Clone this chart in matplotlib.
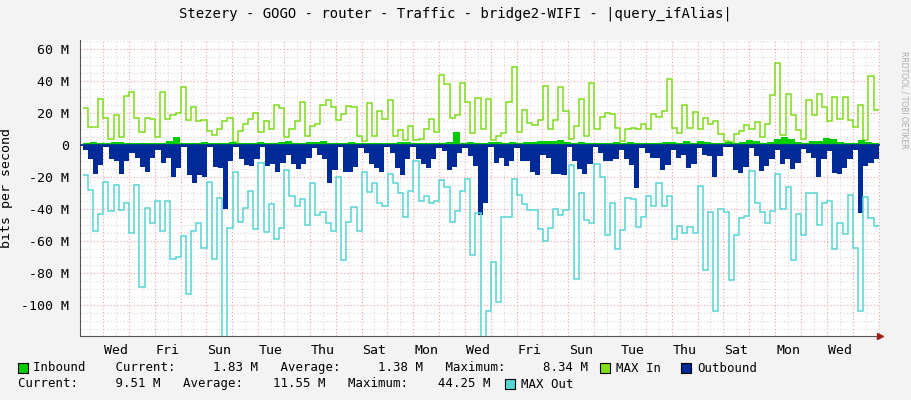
import matplotlib
matplotlib.use("Agg")
import matplotlib.pyplot as plt
import numpy as np

max_in = [23,11,11,28.5,17,4,18.5,5,30.6,33,17,8,17,16,5,33,16,18.5,20,36,15.6,23.5,15,15.6,8.7,6,9.8,15,16.7,2,9,13,16,20,8,14.8,9.8,24.8,23.3,5,
          9.8,15,26.7,5.6,12,13,24.8,28,23.5,15.6,19.4,24.4,23.5,5.6,2.7,26,5.8,21,16,28,5.8,9.4,3,12,3,4,9.8,16,8,43.75,38,16.7,18.75,38.5,26.7,7.7,29.6,9.8,28.5,
          3,5.6,7.3,27,49,8,22,14,12.5,15.6,37,9.8,15.6,36,21.5,4,11.9,29,5.6,38.5,9.8,17.7,20,19.4,10.8,2.7,9.8,10.4,9.8,13,9.8,19.4,17.3,21,41,10.4,7.7,25,
          10.4,20.8,9.8,16.7,13,15,6.7,2.5,1.7,6.7,8.7,12.5,9.8,14.4,5,13,31,51,6.25,31.7,18.5,9.4,3.5,28,18.75,32,24,15,30,16,30,15.6,11,24.8,3,43,22]
outbound = [3,9,18,12.5,1,9,10,18,10,5,8,14,17,8,3,11.5,8,20,14.6,1,19,23.5,19,20,1,14,14.6,40,10,1,9,12.5,13,9,1,13,12,17,11.5,6,
            12,15,12,8,2,6,9,24,15.6,1,17,17,14,2,5,12,14.6,17,1,5,14.6,19,9,1,9,12,14.6,9,2,4,15.6,13.5,5,2,7,13,44,36,
            1,11.5,8,13,10,2,10,10,17,19,6,8,18,18,19,1,10,15,18,12,1,5,10,10,9,3,9,12.5,27,2,5,8,8,15.6,12.5,3,8,6,
            14.6,12,2,6,7,20,7,1,1.5,15.6,17.7,13.5,2,7,16,13,9,3,12,9,15,11,2.7,5,8,20,9,4,17.7,18,14.6,9,3,42.7,13,11.5,9]
max_out = [19,28,54,43,23,41,25,40.6,36,55,25,88.5,39.6,49,35,54,35,71,70,57,93,53.5,49,64.6,23,71,33,120,52,16.7,48,39.6,29,52.7,11.5,54.6,37,58.8,51.7,15.6,
           32,38,34,50,23.5,43.75,41.7,49,54,19.8,72,48,39,54,16.7,29.6,24,36,38,18,24,30,45,29,10,35,32,36.5,35,22,26,48,41,28.5,21,69,42.7,120,103.5,
           73,98,45,44.8,21.5,31,37,40.6,40.6,52.7,60,52,40,44,40.6,12.5,84,30,47,48.5,12,19.8,56,36.5,65,53,33,34,51,44.8,32,38,23.5,38,32,59,50.8,55,
           51.5,55,25.6,78,42,104,40,41.7,84.4,56,45.8,44.4,16,36,41.7,49,41,18,40,26,72,43,56,30,30,50,36.5,35,65,48.5,55.6,31,64.6,103.75,32.7,45.8,50.6]
inbound = [1.5,1.8,1.2,1.5,1.6,2,1.2,1.5,1.5,1.2,1.5,1.3,2.5,4.8,1.2,1.5,1.4,2,1.5,1.3,
           1.5,1.6,1.4,1.5,1.3,1.8,1.5,1.3,1.6,2.5,1.5,1.2,1.6,1.8,2.2,1.5,1.5,1.3,1.7,1.5,
           1.4,1.2,1.5,1.5,1.3,1.6,2,1.2,1.5,1.4,1.5,1.2,1.8,8.3,1.5,1.6,1.3,1.5,2,1.8,
           1.2,2,1.5,1.8,1.6,2.2,2.4,2.6,2.8,1.6,1.5,1.8,1.2,1.4,1.2,1.5,2,1.5,1.8,1.2,
           1.5,1.3,1.5,1.8,2,1.5,2.5,1.5,2.2,1.8,1.4,1.2,1.6,1.3,2,2.8,2.5,1.4,2,3.5,
           4.8,4,2,1.5,2.2,2.5,4.2,3.5,2,1.3,1.5,2.8,1.6,1.5]
outbound_neg = [-v for v in outbound]
max_out_neg = [-v for v in max_out]
day_labels = ["Wed","Fri","Sun","Tue","Thu","Sat","Mon","Wed","Fri","Sun","Tue","Thu","Sat","Mon","Wed"]
y_ticks = [60,40,20,0,-20,-40,-60,-80,-100]

W, H = 911, 400
PX = 25.85
XMAX = 800 / PX
fig = plt.figure(figsize=(W/100, H/100), dpi=100, facecolor="#F3F3F3")
ax = fig.add_axes([80/W, 1-336/H, 800/W, 296/H])
ax.set_facecolor("white")
ylo, yhi = -119.4, 65.6
ax.set_xlim(0, XMAX); ax.set_ylim(ylo, yhi)

for k in range(0, 62):
    d = 0.89 - 0.5 + k*0.5
    if 0 < d < XMAX:
        is_major = k % 2 == 1
        ax.axvline(d, color="#F0A0A0" if is_major else "#D8D8D8", lw=0.8, ls=(0,(1,2)), zorder=0)
for v in range(-115, 66, 5):
    ax.axhline(v, color="#F0A0A0" if v % 20 == 0 else "#D8D8D8", lw=0.8, ls=(0,(1,2)), zorder=0)

def edges(n):
    return np.linspace(0.1, XMAX - 0.05, n + 1)

ax.stairs(max_in, edges(len(max_in)), baseline=None, color="#7FDD1A", lw=1.1, zorder=2)
ax.stairs(inbound, edges(len(inbound)), baseline=0, fill=True, color="#00CC00", zorder=3)
ax.stairs(outbound_neg, edges(len(outbound_neg)), baseline=0, fill=True, color="#002A97", zorder=3)
ax.stairs(max_out_neg, edges(len(max_out_neg)), baseline=None, color="#55D6D3", lw=1.1, zorder=4)
ax.axhline(0, color="#002A97", lw=1.2, zorder=5)

mono = "DejaVu Sans Mono"
ax.set_yticks(y_ticks)
ax.set_yticklabels([f"{v} M" if v != 0 else "0" for v in y_ticks], family=mono, fontsize=9.5)
ax.set_xticks([1.39 + 2*i for i in range(len(day_labels))])
ax.set_xticklabels(day_labels, family=mono, fontsize=9.5)
ax.tick_params(length=0, pad=6)
ax.tick_params(axis="y", pad=8)
for s in ["top", "right"]:
    ax.spines[s].set_visible(False)
for s in ["left", "bottom"]:
    ax.spines[s].set_color("#555555")
ax.plot([XMAX], [ylo], marker=">", color="#A02020", markersize=5, clip_on=False, zorder=6)
ax.set_ylabel("bits per second", family=mono, fontsize=9.5, labelpad=6)

fig.text(0.5, 1-14/H, "Stezery - GOGO - router - Traffic - bridge2-WIFI - |query_ifAlias|",
         ha="center", va="center", family=mono, fontsize=10)
fig.text(1-7/W, 1-100/H, "RRDTOOL / TOBI OETIKER", rotation=270, ha="center", va="center",
         family="DejaVu Sans", fontsize=5.5, color="#AAAAAA")

def sq(x, y, c):
    fig.patches.append(plt.Rectangle((x/W, 1-(y+5)/H), 10/W, 10/H, transform=fig.transFigure,
                                     facecolor=c, edgecolor="black", lw=0.8))
def tx(x, y, s):
    fig.text(x/W, 1-y/H, s, family=mono, fontsize=8.9, va="center", ha="left")

sq(18, 368, "#00CC00"); tx(33, 368, "Inbound    Current:     1.83 M   Average:     1.38 M   Maximum:     8.34 M")
sq(600, 368, "#7FDD1A"); tx(616, 368, "MAX In")
sq(681, 368, "#002A97"); tx(697, 368, "Outbound")
tx(18, 384, "Current:     9.51 M   Average:    11.55 M   Maximum:    44.25 M")
sq(505, 384, "#55D6D3"); tx(521, 384, "MAX Out")

fig.savefig("out.png", dpi=100, facecolor=fig.get_facecolor())
